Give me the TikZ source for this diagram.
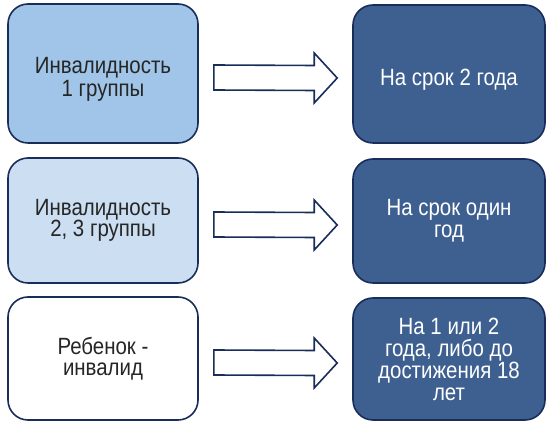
\documentclass[tikz,border=0pt]{standalone}
\usepackage{fontspec}
\setmainfont{Liberation Sans}[FakeStretch=0.87]
\usetikzlibrary{calc}

\definecolor{navyline}{RGB}{25,45,90}
\definecolor{grpone}{RGB}{160,197,232}
\definecolor{grptwo}{RGB}{204,222,241}
\definecolor{termbox}{RGB}{62,96,145}

\tikzset{
  box/.style={draw=navyline, line width=1.6pt, rounded corners=20pt,
    minimum width=190pt, minimum height=124pt, align=center,
    font=\fontsize{23.5}{21.5}\selectfont},
  leftbox/.style={box, text=black!85},
  rightbox/.style={box, fill=termbox, text=white, minimum width=192pt,
    font=\fontsize{23.5}{22}\selectfont},
  fatarrow/.style={draw=navyline, line width=1.6pt, fill=white, line join=miter}
}

% text a little below the middle of the tall top boxes
\newcommand{\lowtext}[1]{\raisebox{0pt}[\dimexpr\height+13pt\relax]{\begin{tabular}{@{}c@{}}#1\end{tabular}}}

% hollow block arrow between two boxes
\newcommand{\fatarrow}[2]{%
  \draw[fatarrow] ($(#1.east)+(15,-8.5)$)
    -- ($(#2.west)+(-38,-8.5)$) -- ($(#2.west)+(-38,-21)$)
    -- ($(#2.west)+(-15,4)$)
    -- ($(#2.west)+(-38,29)$) -- ($(#2.west)+(-38,16.5)$)
    -- ($(#1.east)+(15,16.5)$) -- cycle;}

\begin{document}
\begin{tikzpicture}[x=1pt, y=-1pt]
  \useasboundingbox (0,0) rectangle (550,427);

  % left column
  \node[leftbox, fill=grpone, minimum height=139pt] (grp1) at (103,73.5) {\lowtext{Инвалидность\\1 группы}};
  \node[leftbox, fill=grptwo, minimum height=125pt] (grp2) at (103,220.5) {Инвалидность\\2, 3 группы};
  \node[leftbox, fill=white, minimum height=123pt] (child) at (103,358.5) {Ребенок -\\инвалид};

  % right column
  \node[rightbox, minimum height=138pt] (term1) at (449,74) {\lowtext{На срок 2 года}};
  \node[rightbox, minimum height=124pt] (term2) at (449,221) {На срок один\\год};
  \node[rightbox, minimum height=122pt] (term3) at (449,359) {На 1 или 2\\года, либо до\\достижения 18\\лет};

  \fatarrow{grp1}{term1}
  \fatarrow{grp2}{term2}
  \fatarrow{child}{term3}
\end{tikzpicture}
\end{document}
